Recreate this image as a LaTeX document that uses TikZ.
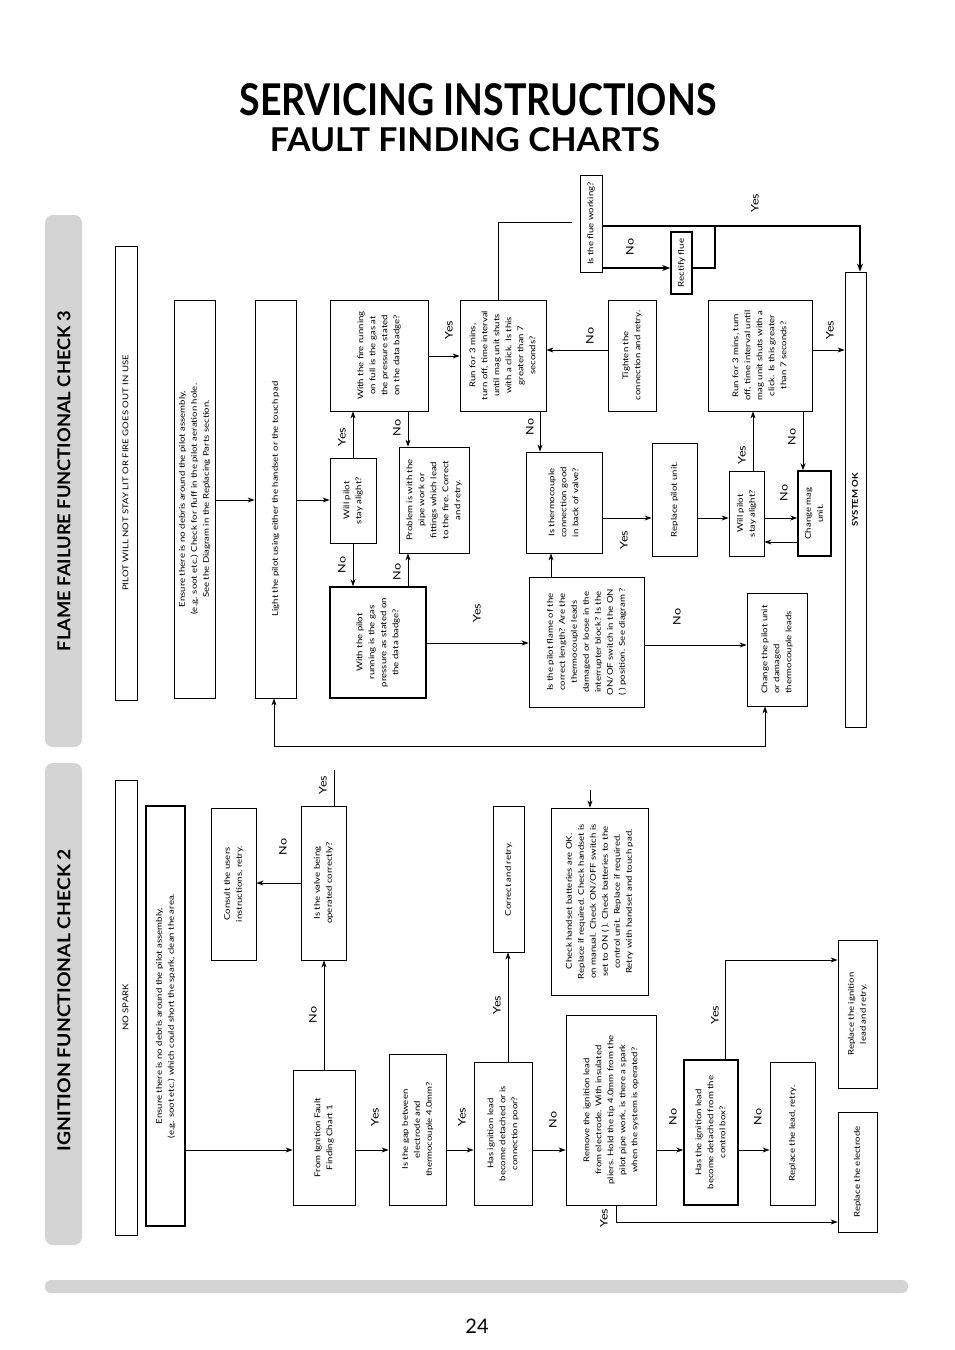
\documentclass[tikz,border=0pt]{standalone}
\usepackage{fontspec}
\setmainfont{Lato}
\newfontfamily\chartfont{Lato}[FakeStretch=1.2]
\usepackage{graphicx}
\usetikzlibrary{arrows.meta, positioning}

\tikzset{
  box/.style={draw, line width=0.8pt, inner sep=0pt, align=center,
              font=\chartfont\fontsize{8}{12}\selectfont},
  heavy/.style={box, line width=1.6pt},
  arr/.style={-{Stealth[length=7pt,width=5pt]}, line width=0.8pt},
  arrboth/.style={{Stealth[length=7pt,width=5pt]}-{Stealth[length=7pt,width=5pt]}, line width=0.8pt},
  arrthick/.style={-{Stealth[length=8pt,width=6pt]}, line width=1.6pt},
  lbl/.style={rotate=90, inner sep=0pt, font=\chartfont\fontsize{10.5}{12}\selectfont},
  tab/.style={fill=black!17, rounded corners=8pt},
}
\newcommand{\rt}[1]{\rotatebox{90}{\begin{tabular}{@{}c@{}}#1\end{tabular}}}
\newcommand{\rtl}[1]{\rotatebox{90}{\begin{tabular}{@{}l@{}}#1\end{tabular}}}

\begin{document}
\begin{tikzpicture}[x=1pt, y=-1pt]
\fill[white] (0,0) rectangle (954,1350);
\useasboundingbox (0,0) rectangle (954,1350);

% page head
\node (title) at (478,100) {\resizebox{477pt}{32pt}{\bfseries SERVICING INSTRUCTIONS}};
\node (subtitle) at (465,140) {\resizebox{390pt}{24pt}{\bfseries FAULT FINDING CHARTS}};

% side tabs
\fill[tab] (45,215) rectangle (82,747);
\fill[tab] (45,763) rectangle (82,1245);
\node[rotate=90] (tabA) at (64,481) {\resizebox{340pt}{13pt}{\bfseries FLAME FAILURE FUNCTIONAL CHECK 3}};
\node[rotate=90] (tabB) at (64,1000) {\resizebox{302pt}{13pt}{\bfseries IGNITION FUNCTIONAL CHECK 2}};

% ---- flame failure chart ----
\node[box, minimum width=22pt, minimum height=454pt] (nostay) at (126,473) {\rt{PILOT WILL NOT STAY LIT OR FIRE GOES OUT IN USE}};
\node[box, minimum width=41pt, minimum height=398pt] (ensureA) at (194.5,499) {\rt{Ensure there is no debris around the pilot assembly,\\(e.g. soot etc.) Check for fluff in the pilot aeration hole.\\See the Diagram in the Replacing Parts section.}};
\node[box, minimum width=41pt, minimum height=398pt] (light) at (275.5,499) {\rt{Light the pilot using either the handset or the touch pad}};
\node[box, minimum width=46pt, minimum height=85pt] (pilotq1) at (353,500.5) {\rt{Will pilot\\stay alight?}};
\node[box, minimum width=98pt, minimum height=111pt] (fullq) at (379,355.5) {\rt{With the fire running\\on full is the gas at\\the pressure stated\\on the data badge?}};
\node[heavy, minimum width=96pt, minimum height=111pt] (runq) at (378,642.5) {\rt{With the pilot\\running is the gas\\pressure as stated on\\the data badge?}};
\node[box, minimum width=70pt, minimum height=106pt] (pipe) at (434,500) {\rt{Problem is with the\\pipe work or\\fittings which lead\\to the fire. Correct\\and retry.}};
\node[box, minimum width=86pt, minimum height=111pt] (timeA) at (503,355.5) {\rt{Run for 3 mins,\\turn off, time interval\\until mag unit shuts\\with a click. Is this\\greater than 7\\seconds?}};
\node[box, minimum width=22pt, minimum height=97pt] (flue) at (591,223.5) {\rt{Is the flue working?}};
\node[heavy, minimum width=21pt, minimum height=62pt] (rectify) at (681.5,263) {\rt{Rectify flue}};
\node[box, minimum width=21pt, minimum height=455pt] (sysok) at (855.5,499.5) {\rt{\bfseries SYSTEM OK}};
\node[box, minimum width=48pt, minimum height=111pt] (tighten) at (632,355.5) {\rt{Tighten the\\connection and retry.}};
\node[box, minimum width=76pt, minimum height=101pt] (tcouple) at (564,502.5) {\rt{Is thermocouple\\connection good\\in back of valve?}};
\node[box, minimum width=115pt, minimum height=130pt] (flame) at (586.5,642) {\rt{Is the pilot flame of the\\correct length? Are the\\thermocouple leads\\damaged or loose in the\\interrupter block? Is the\\ON/OF switch in the ON\\( ) position. See diagram ?}};
\node[box, minimum width=45pt, minimum height=113pt] (replpilot) at (674.5,499.5) {\rt{Replace pilot unit.}};
\node[box, minimum width=35pt, minimum height=85pt] (pilotq2) at (746.5,513.5) {\rt{Will pilot\\stay alight?}};
\node[heavy, minimum width=33pt, minimum height=85pt] (magunit) at (814.5,513.5) {\rt{Change mag\\unit.}};
\node[box, minimum width=104pt, minimum height=111pt] (timeB) at (760,355.5) {\rt{Run for 3 mins, turn\\off, time interval until\\mag unit shuts with a\\click. Is this greater\\than 7 seconds?}};
\node[box, minimum width=60pt, minimum height=113pt] (changepilot) at (777,649.5) {\rtl{Change the pilot unit\\or damaged\\thermocouple leads}};

\coordinate (rowA) at (0,500);
\coordinate (rowF) at (0,356);
\coordinate (rowR) at (0,643);
\coordinate (rowU) at (0,222);
\coordinate (rowY) at (0,226);
\coordinate (rowN) at (0,268);
\coordinate (rowT) at (0,350);
\coordinate (rowQ) at (0,518);
\coordinate (rowM) at (0,542);
\coordinate (rowC) at (0,645);
\coordinate (colP) at (408,0);
\coordinate (colT) at (498,0);
\coordinate (colN) at (540,0);
\coordinate (colF) at (551,0);
\coordinate (colW) at (753,0);
\coordinate (colM) at (803,0);
\coordinate (joinR) at (715,226);

\draw[arr] (ensureA.east |- rowA) -- (light.west |- rowA);
\draw[arr] (light.east |- rowA) -- (pilotq1.west |- rowA);
\draw[arrboth] ([xshift=-1.5pt]light.south) -- ++(0,48) -| ([xshift=-12pt]changepilot.south);
\draw[arr] (pilotq1.north) -- (pilotq1.north |- fullq.south);
\draw[arr] (pilotq1.south) -- (pilotq1.south |- runq.north);
\draw[arr] (fullq.south -| colP) -- (pipe.north -| colP);
\draw[arr] (runq.north -| colP) -- (pipe.south -| colP);
\draw[arr] (fullq.east |- rowF) -- (timeA.west |- rowF);
\draw[arr] (runq.east |- rowR) -- (flame.west |- rowR);
\draw[line width=0.8pt] (timeA.north -| colT) |- ([xshift=-8pt]flue.west |- rowU);
\draw[arrthick] (flue.east |- rowY) -| ([xshift=4.5pt]sysok.north);
\draw[arrthick] (flue.east |- rowN) -- (rectify.west |- rowN);
\draw[line width=1.2pt] (rectify.east |- rowN) -| (joinR);
\draw[arr] (timeA.south -| colN) -- (tcouple.north -| colN);
\draw[arr] (tighten.west |- rowT) -- (timeA.east |- rowT);
\draw[arr] (tcouple.east |- rowQ) -- (replpilot.west |- rowQ);
\draw[arr] (flame.north -| colF) -- (tcouple.south -| colF);
\draw[arr] (flame.east |- rowC) -- (changepilot.west |- rowC);
\draw[arr] (replpilot.east |- rowQ) -- (pilotq2.west |- rowQ);
\draw[arr] (pilotq2.east |- rowQ) -- (magunit.west |- rowQ);
\draw[arr] (magunit.west |- rowM) -- (pilotq2.east |- rowM);
\draw[arr] (pilotq2.north -| colW) -- (timeB.south -| colW);
\draw[arr] (timeB.south -| colM) -- (magunit.north -| colM);
\draw[arr] (timeB.east |- rowT) -- (sysok.west |- rowT);

\node[lbl] (yA1) at (342,437) {Yes};
\node[lbl] (nA1) at (342,565) {No};
\node[lbl] (nA2) at (397,428) {No};
\node[lbl] (nA3) at (397,572) {No};
\node[lbl] (yA2) at (449,330) {Yes};
\node[lbl] (yA3) at (477,613) {Yes};
\node[lbl] (nA4) at (530,427) {No};
\node[lbl] (nA5) at (590,336) {No};
\node[lbl] (nA6) at (630,247) {No};
\node[lbl] (yA4) at (755,203) {Yes};
\node[lbl] (yA5) at (624,540) {Yes};
\node[lbl] (nA7) at (677,617) {No};
\node[lbl] (yA6) at (742,455) {Yes};
\node[lbl] (nA8) at (784,493) {No};
\node[lbl] (nA9) at (792,437) {No};
\node[lbl] (yA7) at (830,330) {Yes};

% ---- ignition chart ----
\node[box, minimum width=22pt, minimum height=455pt] (nospark) at (126,1007.5) {\rt{NO SPARK}};
\node[heavy, minimum width=39pt, minimum height=420pt] (ensureB) at (165.5,1016) {\rt{Ensure there is no debris around the pilot assembly,\\(e.g. soot etc.) which could short the spark, clean the area.}};
\node[box, minimum width=45pt, minimum height=152pt] (consult) at (233.5,884) {\rt{Consult the users\\instructions, retry.}};
\node[box, minimum width=45pt, minimum height=154pt] (valve) at (323.5,883) {\rt{Is the valve being\\operated correctly?}};
\node[box, minimum width=62pt, minimum height=135pt] (fromchart) at (324,1137.5) {\rt{From Ignition Fault\\Finding Chart 1}};
\node[box, minimum width=57pt, minimum height=151pt] (gap) at (417.5,1129.5) {\rt{Is the gap between\\electrode and\\thermocouple 4.0mm?}};
\node[box, minimum width=58pt, minimum height=143pt] (leadq) at (503,1133.5) {\rt{Has ignition lead\\become detached or is\\connection poor?}};
\node[box, minimum width=31pt, minimum height=146pt] (correct) at (508.5,879) {\rt{Correct and retry.}};
\node[box, minimum width=90pt, minimum height=190pt] (remove) at (611,1110) {\rt{Remove the ignition lead\\from electrode. With insulated\\pliers. Hold the tip 4.0mm from the\\pilot pipe work, is there a spark\\when the system is operated?}};
\node[box, minimum width=97pt, minimum height=187pt] (handset) at (599.5,901.5) {\rt{Check handset batteries are OK.\\Replace if required. Check handset is\\on manual. Check ON/OFF switch is\\set to ON ( ). Check batteries to the\\control unit. Replace if required.\\Retry with handset and touch pad.}};
\node[heavy, minimum width=54pt, minimum height=145pt] (boxq) at (711,1132.5) {\rt{Has the ignition lead\\become detached from the\\control box?}};
\node[box, minimum width=45pt, minimum height=143pt] (newlead) at (792.5,1133.5) {\rt{Replace the lead, retry.}};
\node[box, minimum width=39pt, minimum height=148pt] (newign) at (857.5,1014) {\rt{Replace the ignition\\lead and retry.}};
\node[box, minimum width=39pt, minimum height=120pt] (electrode) at (857.5,1172) {\rt{Replace the electrode}};

\coordinate (rowB) at (0,1150);
\coordinate (rowV) at (0,883);
\coordinate (rowI) at (0,960);
\coordinate (rowE) at (0,1222);
\coordinate (colV) at (334,0);
\coordinate (colC) at (508,0);
\coordinate (colX) at (725,0);
\coordinate (colR) at (616,0);
\coordinate (topV) at (334,770);
\coordinate (topH) at (590,790);

\draw[arr] (ensureB.east |- rowB) -- (fromchart.west |- rowB);
\draw[arr] (fromchart.north) -- (fromchart.north |- valve.south);
\draw[arr] (valve.west |- rowV) -- (consult.east |- rowV);
\draw[line width=0.8pt] (valve.north -| colV) -- (topV);
\draw[arr] (topH) -- (handset.north -| topH);
\draw[arr] (fromchart.east |- rowB) -- (gap.west |- rowB);
\draw[arr] (gap.east |- rowB) -- (leadq.west |- rowB);
\draw[arr] (leadq.north -| colC) -- (correct.south -| colC);
\draw[arr] (leadq.east |- rowB) -- (remove.west |- rowB);
\draw[arr] (remove.east |- rowB) -- (boxq.west |- rowB);
\draw[arr] (boxq.east |- rowB) -- (newlead.west |- rowB);
\draw[arr] (boxq.north -| colX) |- (newign.west |- rowI);
\draw[arr] (remove.south -| colR) |- (electrode.west |- rowE);

\node[lbl] (nB1) at (313,1015) {No};
\node[lbl] (nB2) at (283,847) {No};
\node[lbl] (yB1) at (323,785) {Yes};
\node[lbl] (yB2) at (375,1117) {Yes};
\node[lbl] (yB3) at (462,1117) {Yes};
\node[lbl] (yB4) at (497,1005) {Yes};
\node[lbl] (nB3) at (553,1120) {No};
\node[lbl] (nB4) at (673,1117) {No};
\node[lbl] (nB5) at (758,1117) {No};
\node[lbl] (yB5) at (715,1015) {Yes};
\node[lbl] (yB6) at (604,1218) {Yes};

% page foot
\fill[tab, rounded corners=6pt] (45,1280) rectangle (908,1293);
\node (pageno) at (477,1326) {\fontsize{20}{20}\selectfont 24};
\end{tikzpicture}
\end{document}
